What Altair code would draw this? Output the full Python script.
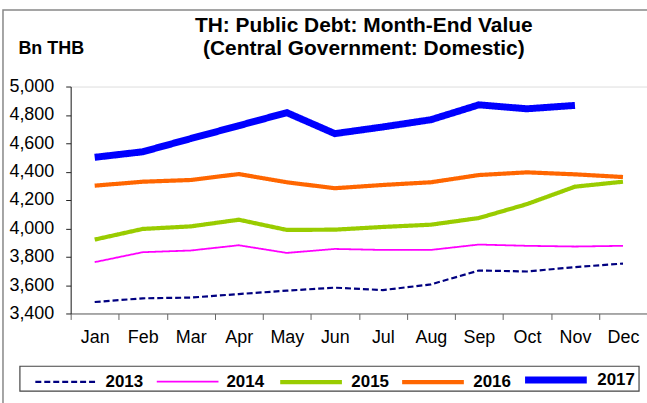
import altair as alt
import pandas as pd

months = ["Jan", "Feb", "Mar", "Apr", "May", "Jun", "Jul", "Aug", "Sep", "Oct", "Nov", "Dec"]
years = ["2013", "2014", "2015", "2016", "2017"]

v2013 = [3481, 3507, 3512, 3537, 3561, 3582, 3565, 3605, 3703, 3696, 3727, 3752]
v2014 = [3762, 3832, 3844, 3881, 3827, 3855, 3848, 3848, 3886, 3877, 3872, 3877]
v2015 = [3921, 3996, 4014, 4061, 3989, 3991, 4010, 4026, 4073, 4171, 4294, 4329]
v2016 = [4301, 4329, 4341, 4383, 4325, 4283, 4306, 4325, 4376, 4395, 4381, 4362]
v2017 = [4501, 4540, 4633, 4724, 4816, 4668, 4715, 4766, 4871, 4843, 4867]

y_ticks = [3400, 3600, 3800, 4000, 4200, 4400, 4600, 4800, 5000]

colors = ["#000080", "#FF00FF", "#99CC00", "#FF6600", "#0000FF"]
widths = [2.2, 1.8, 4.2, 4.2, 7]
dashes = [[6, 3], [1, 0], [1, 0], [1, 0], [1, 0]]

series = [v2013, v2014, v2015, v2016, v2017]
rows = []
for yr, vals in zip(years, series):
    for m, v in zip(months, vals):
        rows.append({"month": m, "year": yr, "value": v})
df = pd.DataFrame(rows)

FONT = "Liberation Sans"

leg = alt.Legend(
    title=None, orient="none", legendX=-37, legendY=260, direction="horizontal",
    symbolType="stroke", symbolSize=3844, labelFontSize=17, labelFontWeight="bold",
    labelOffset=7, columnPadding=-2.5, gridAlign="all", padding=0, labelColor="black", labelFont=FONT,
)

lines = alt.Chart(df).mark_line().encode(
    x=alt.X("month:N", sort=months, bandPosition=0.5,
            scale=alt.Scale(type="band", paddingInner=0, paddingOuter=0),
            axis=alt.Axis(title=None, tickBand="extent", labelAngle=0, labelFontSize=18,
                          labelFont=FONT, labelColor="black", labelPadding=9, tickSize=6,
                          domainColor="#666", tickColor="#666", grid=False)),
    y=alt.Y("value:Q", scale=alt.Scale(domain=[3400, 5000], nice=False, zero=False),
            axis=alt.Axis(values=y_ticks, format=",.0f", grid=False, tickSize=5, labelPadding=12,
                          labelFontSize=18, labelFont=FONT, labelColor="black",
                          domainColor="#222", tickColor="#222",
                          title="Bn THB", titleAngle=0, titleAlign="left", titleX=-53, titleY=-33,
                          titleBaseline="alphabetic", titleFontWeight="bold", titleFontSize=18,
                          titleFont=FONT, titleColor="black")),
    color=alt.Color("year:N", scale=alt.Scale(domain=years, range=colors), legend=leg),
    strokeWidth=alt.StrokeWidth("year:N", scale=alt.Scale(type="ordinal", domain=years, range=widths), legend=leg),
    strokeDash=alt.StrokeDash("year:N", scale=alt.Scale(domain=years, range=dashes), legend=leg),
    order=alt.Order("year:N"),
)

one = pd.DataFrame({"a": [0]})
frame = alt.Chart(one).mark_rect(filled=False, stroke="#888888", strokeWidth=1.5).encode(
    x=alt.value(-68), x2=alt.value(640), y=alt.value(-77), y2=alt.value(340))
legbox = alt.Chart(one).mark_rect(fill="white", stroke="#444444", strokeWidth=1.2).encode(
    x=alt.value(-51), x2=alt.value(571), y=alt.value(281), y2=alt.value(306))

chart = alt.layer(frame, legbox, lines).properties(
    width=579, height=228,
    title=alt.TitleParams(
        text=["TH: Public Debt: Month-End Value", "(Central Government: Domestic)"],
        fontSize=21, fontWeight="bold", font=FONT, anchor="middle", dx=5,
        offset=-50, lineHeight=23, color="black"),
    autosize=alt.AutoSizeParams(type="none"),
    padding={"left": 71, "top": 86, "right": 0, "bottom": 89},
).configure_view(stroke=None).configure(background="white")

chart.save("out.html", embed_options={"renderer": "svg", "actions": False})
